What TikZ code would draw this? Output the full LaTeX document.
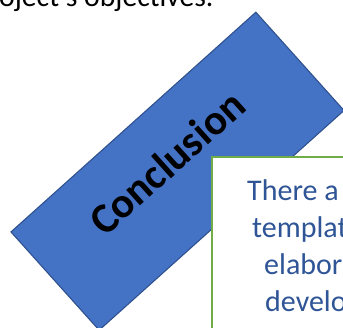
\documentclass[tikz,border=0pt]{standalone}
\usepackage{fontspec}
\setmainfont{Carlito}
\usetikzlibrary{calc}
\definecolor{shapeblue}{HTML}{4472C4}
\definecolor{shapeedge}{HTML}{2F528F}
\definecolor{boxgreen}{HTML}{70AD47}
\definecolor{notetext}{HTML}{2F5597}
\tikzset{
  banner/.style={draw=shapeedge, line width=1.1pt, fill=shapeblue, rectangle,
    minimum width=329pt, minimum height=132pt, inner sep=0pt, rotate=41.9},
  bannertext/.style={font=\fontsize{42.5}{50}\selectfont\bfseries, text=black,
    inner sep=0pt, anchor=base, rotate=41.9},
  notebox/.style={draw=boxgreen, line width=2pt, fill=white, rectangle,
    minimum width=160pt, minimum height=200pt, inner sep=0pt, anchor=north west},
  noteline/.style={font=\fontsize{30}{36}\selectfont, text=notetext,
    inner sep=0pt, anchor=base west},
  headline/.style={font=\fontsize{29.7}{36}\selectfont, text=black,
    inner sep=0pt, anchor=base west}
}
\begin{document}
\begin{tikzpicture}[x=1pt,y=-1pt]
  \useasboundingbox (0,0) rectangle (343,328);
  \clip (0,0) rectangle (343,328);
  % closing line of the preceding paragraph
  \node[headline] (head) at (-1,7) {oject's objectives.};
  % rotated banner
  \node[banner] (concl) at (177.5,171.2) {};
  \node[bannertext] (concltext) at ($(concl.center)+(-0.8,2.3)$) {Conclusion};
  % note box overlapping the banner
  \node[notebox] (note) at (211,156) {};
  \node[noteline] (l1) at (247,201) {There a};
  \node[noteline] (l2) at (252,238) {templat};
  \node[noteline] (l3) at (264,275) {elabor};
  \node[noteline] (l4) at (265,312) {develo};
\end{tikzpicture}
\end{document}
